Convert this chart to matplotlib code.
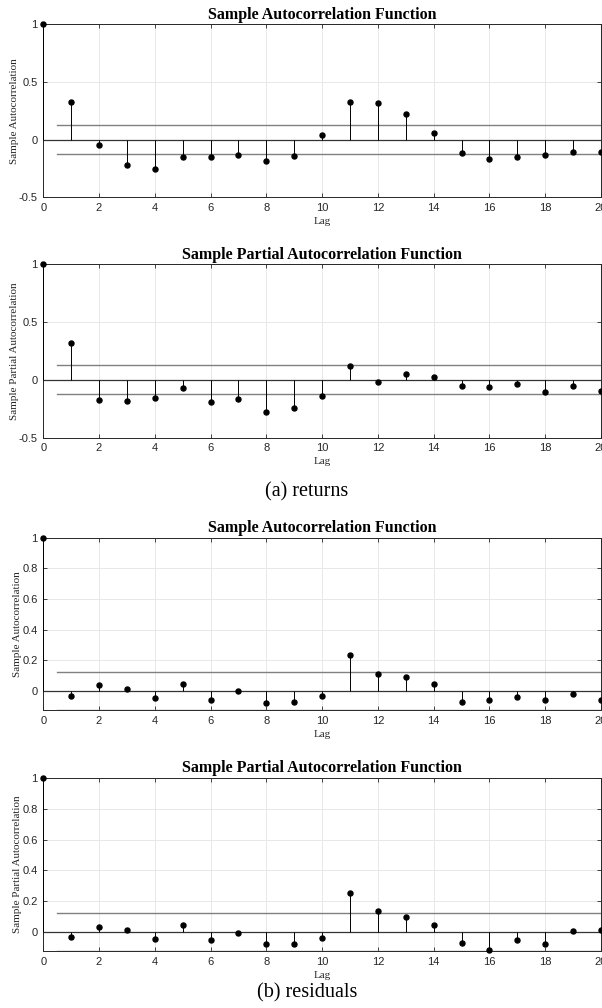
import numpy as np
import matplotlib.pyplot as plt

lags = np.arange(0, 21)
bound = 0.126

acf_returns = [1.0, 0.324, -0.043, -0.223, -0.254, -0.153, -0.150, -0.130, -0.182, -0.142,
               0.040, 0.329, 0.321, 0.223, 0.061, -0.118, -0.168, -0.150, -0.133, -0.104, -0.110]
pacf_returns = [1.0, 0.321, -0.171, -0.182, -0.153, -0.072, -0.188, -0.165, -0.275, -0.246,
                -0.139, 0.121, -0.017, 0.055, 0.026, -0.055, -0.061, -0.038, -0.107, -0.052, -0.098]
acf_resid = [1.0, -0.033, 0.037, 0.011, -0.046, 0.048, -0.057, 0.002, -0.076, -0.072,
             -0.030, 0.237, 0.109, 0.091, 0.048, -0.070, -0.057, -0.041, -0.059, -0.020, -0.059]
pacf_resid = [1.0, -0.035, 0.035, 0.011, -0.048, 0.043, -0.052, -0.006, -0.076, -0.076,
              -0.041, 0.251, 0.134, 0.095, 0.043, -0.074, -0.119, -0.052, -0.078, 0.006, 0.015]

titles = ['Sample Autocorrelation Function', 'Sample Partial Autocorrelation Function',
          'Sample Autocorrelation Function', 'Sample Partial Autocorrelation Function']
ylabels = ['Sample Autocorrelation', 'Sample Partial Autocorrelation',
           'Sample Autocorrelation', 'Sample Partial Autocorrelation']
series = [acf_returns, pacf_returns, acf_resid, pacf_resid]
captions = ['(a) returns', '(b) residuals']

axc = '#262626'
fig = plt.figure(figsize=(6.02, 10.08), dpi=100)

# axes boxes in figure fractions (left, bottom, width, height)
boxes = [(0.0719, 0.8043, 0.9264, 0.1716),
         (0.0719, 0.5658, 0.9264, 0.1720),
         (0.0719, 0.2953, 0.9264, 0.1713),
         (0.0719, 0.0562, 0.9264, 0.1720)]

for i in range(4):
    ax = fig.add_axes(boxes[i])
    y = series[i]
    ax.vlines(lags, 0, y, color='black', lw=0.7, zorder=3)
    ax.plot(lags, y, 'o', color='black', ms=3.6, zorder=4, clip_on=False)
    ax.plot([0, 20], [0, 0], color='#333333', lw=0.9, zorder=2)
    ax.plot([0.5, 20], [bound, bound], color='#808080', lw=1.0, zorder=2)
    ax.plot([0.5, 20], [-bound, -bound], color='#808080', lw=1.0, zorder=2)
    ax.set_xlim(0, 20)
    if i < 2:
        ax.set_ylim(-0.5, 1)
        ax.set_yticks([-0.5, 0, 0.5, 1])
        ax.set_yticklabels(['-0.5', '0', '0.5', '1'])
    else:
        ax.set_ylim(-bound, 1)
        ax.set_yticks([0, 0.2, 0.4, 0.6, 0.8, 1])
        ax.set_yticklabels(['0', '0.2', '0.4', '0.6', '0.8', '1'])
    ax.set_xticks(range(0, 21, 2))
    ax.grid(True, color='#e8e8e8', lw=0.7)
    ax.set_axisbelow(True)
    ax.tick_params(direction='in', top=True, right=True, length=3, width=0.6,
                   color=axc, labelcolor=axc, labelsize=8, pad=4)
    for lab in ax.get_xticklabels() + ax.get_yticklabels():
        lab.set_family('Liberation Sans')
    for s in ax.spines.values():
        s.set_color(axc)
        s.set_linewidth(0.7)
    ax.set_title(titles[i], family='Liberation Serif', weight='bold', fontsize=11.5, pad=4)
    ax.set_xlabel('Lag', family='Liberation Serif', fontsize=8, color=axc, labelpad=3)
    ax.set_ylabel(ylabels[i], family='Liberation Serif', fontsize=8, color=axc, labelpad=0)

fig.text(0.51, 1 - 492 / 1008, captions[0], family='Liberation Serif', fontsize=14.5,
         ha='center', va='center')
fig.text(0.51, 1 - 993 / 1008, captions[1], family='Liberation Serif', fontsize=14.5,
         ha='center', va='center')

fig.savefig('out.png', dpi=100)
